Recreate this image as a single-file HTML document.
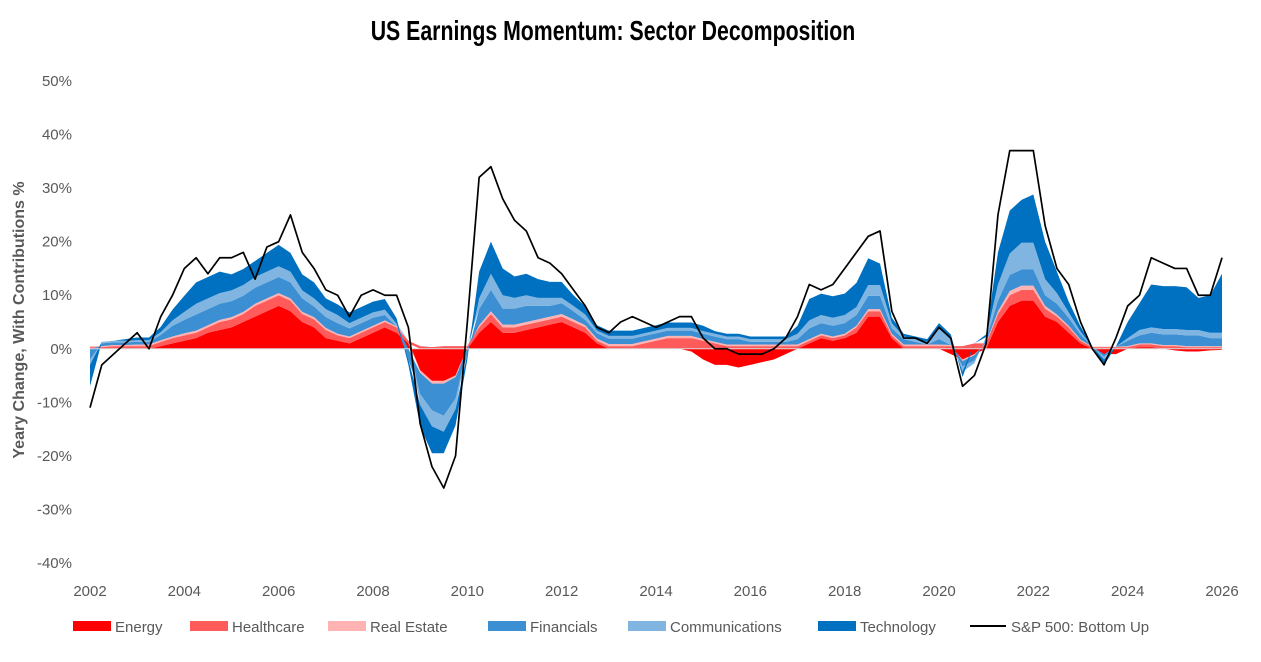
<!DOCTYPE html>
<html><head><meta charset="utf-8">
<style>
html,body{margin:0;padding:0;background:#fff;}
body{width:1261px;height:657px;overflow:hidden;font-family:"Liberation Sans",sans-serif;}
</style></head>
<body>
<svg id="chart" width="1261" height="657" xmlns="http://www.w3.org/2000/svg">
<text x="613" y="40" text-anchor="middle" font-family="Liberation Sans Narrow, Liberation Sans, sans-serif" font-weight="bold" font-size="28" fill="#000" transform="translate(613,0) scale(0.76,1) translate(-613,0)">US Earnings Momentum: Sector Decomposition</text>
<text x="0" y="0" transform="translate(24,320) rotate(-90)" text-anchor="middle" font-weight="bold" font-size="16" fill="#595959">Yeary Change, With Contributions %</text>
<g id="yaxis"></g>
<g id="xaxis"></g>
<g id="areas"></g>
<g id="line"></g>
<g id="legend"></g>
</svg>
<script>
const startYear = 2002;
const yTicks = [50,40,30,20,10,0,-10,-20,-30,-40];
const xTicks = [2002,2004,2006,2008,2010,2012,2014,2016,2018,2020,2022,2024,2026];
const seriesNames = ["Energy","Healthcare","Real Estate","Financials","Communications","Technology"];
const energy = [0,0,0,0, 0,0,0.5,1, 1.5,2,3,3.5, 4,5,6,7, 8,7,5,4, 2,1.5,1,2, 3,4,3,1, -4,-6,-6,-5, 0,3,5,3, 3,3.5,4,4.5, 5,4,3,1, 0,0,0,0, 0,0,0,-0.5, -2,-3,-3,-3.5, -3,-2.5,-2,-1, 0,1,2,1.5, 2,3,6,6, 2,0,0,0, 0,-1,-2,-1, 0,5,8,9, 9,6,5,3, 1,0,-1,-1, 0,0.3,0.3,0, -0.3,-0.5,-0.5,-0.3, -0.2];
const healthcare = [0.3,0.3,0.5,0.5, 0.5,0.5,0.8,1, 1,1,1,1.5, 1.5,1.5,2,2, 2,2,1.5,1.5, 1.5,1,1,1, 1,1,1,0.5, 0.5,0.3,0.5,0.5, 0.5,1,1.5,1, 1,1,1,1, 1,1,1,0.5, 0.5,0.5,0.5,1, 1.5,2,2,2, 1.5,1,0.5,0.5, 0.5,0.5,0.5,0.5, 0.5,0.5,0.5,0.5, 0.5,1,1,1, 0.5,0.5,0.5,0.5, 0.5,0.5,0.5,1, 1,1.5,2,2, 2,1.5,1,1, 0.5,0.3,0.3,0.3, 0.3,0.5,0.5,0.5, 0.5,0.3,0.3,0.3, 0.3];
const realEstate = [0.2,0.2,0.2,0.2, 0.3,0.3,0.3,0.3, 0.4,0.4,0.4,0.4, 0.4,0.4,0.4,0.4, 0.4,0.4,0.4,0.4, 0.4,0.3,0.3,0.3, 0.3,0.3,0.2,0, -0.5,-0.5,-0.5,-0.3, 0.2,0.4,0.5,0.5, 0.5,0.5,0.5,0.5, 0.5,0.5,0.4,0.4, 0.4,0.4,0.4,0.4, 0.4,0.4,0.4,0.4, 0.3,0.3,0.3,0.3, 0.3,0.3,0.3,0.3, 0.3,0.3,0.3,0.3, 0.3,0.3,0.4,0.4, 0.3,0.3,0.3,0.3, 0.3,0.2,-0.3,-0.2, 0.2,0.5,0.8,0.8, 0.8,0.5,0.4,0.3, 0.2,0.1,0.1,0.1, 0.2,0.2,0.2,0.2, 0.2,0.2,0.2,0.2, 0.2];
const financials = [-2,0.5,0.5,0.5, 0.5,0.5,1,2, 2.5,3,3,3, 3,3,3,3, 3,3,2.5,2, 2,2,1.5,1.5, 1.5,1,0,-2, -4,-5,-6,-4, -1,3,4,3, 3,3,2.5,2, 2,1.5,1,1, 1,1,1,1, 1,1,1,1, 1,1,1,1, 0.5,0.5,0.5,0.5, 1,2,2,2, 2,2,2.5,2.5, 1,1,0.5,0, 1,0,-1,-1, 0.5,2,3,3, 3,2,2,1.5, 1,0,-0.5,0, 1,1.5,2,2, 2,2,2,1.5, 1.5];
const communications = [-1,0.3,0.3,0.3, 0.3,0.3,0.5,1, 1.5,2,2,2, 2,2,2,2, 2,2,1.5,1.5, 1.5,1.5,1,1, 1,1,0.5,0, -2,-3,-3,-2, 0,2,3,2.5, 2,2,1.5,1.5, 1,1,1,0.5, 0.5,0.5,0.5,0.5, 0.5,0.5,0.5,0.5, 0.5,0.5,0.5,0.5, 0.5,0.5,0.5,0.5, 1,1.5,1.5,1.5, 1.5,1.5,2,2, 1,0.5,0.5,0.5, 2,1,-1,-0.5, 0.5,3,4,5, 5,3,2,1, 0.5,0,-0.5,0, 0.5,1,1,1, 1,1,1,1, 1];
const technology = [-4,0,0,0.3, 0.5,0.5,1,2, 3,4,4,4, 3,3,3,3.5, 4,3.5,3,3, 2,2,2,2, 2,2,1,-1, -4,-5,-4,-3, -1,5,6,5, 4,4,3.5,3, 3,2,1.5,1, 1,1,1,1, 1,1,1,1, 1,0.5,0.5,0.5, 0.5,0.5,0.5,0.5, 1.5,4,4,4, 4,4.5,5,4, 1,0.5,0.5,0.5, 1,1,-1,0, 0.5,6,8,8, 9,7,4,2, 1,0,-1,0, 3,5,8,8, 8,8,6,7, 11];
const sp500 = [-11,-3,-1,1, 3,0,6,10, 15,17,14,17, 17,18,13,19, 20,25,18,15, 11,10,6,10, 11,10,10,4, -14,-22,-26,-20, 5,32,34,28, 24,22,17,16, 14,11,8,4, 3,5,6,5, 4,5,6,6, 2,0,0,-1, -1,-1,0,2, 6,12,11,12, 15,18,21,22, 7,2,2,1, 4,2,-7,-5, 1,25,37,37, 37,23,15,12, 5,0,-3,2, 8,10,17,16, 15,15,10,10, 17];
const colors = ["#FF0000","#FF5B5B","#FFB3B3","#3C8FD3","#7FB5E0","#0070C0"];
const allSeries = [energy,healthcare,realEstate,financials,communications,technology];

const NS="http://www.w3.org/2000/svg";
const x0=90,x1=1222,yTop=81,yBot=563;
function xScale(t){return x0+(t-2002)/(2026-2002)*(x1-x0);}
function yScale(v){return yTop+(50-v)/(90)*(yBot-yTop);}
function tOf(i){return startYear+i*0.25;}
function mk(tag,attrs,parent){const e=document.createElementNS(NS,tag);for(const k in attrs)e.setAttribute(k,attrs[k]);parent.appendChild(e);return e;}

const yaxis=document.getElementById('yaxis');
yTicks.forEach(v=>{
  const t=mk('text',{x:72,y:yScale(v)+5,'text-anchor':'end','font-size':15,fill:'#595959'},yaxis);
  t.textContent=v+'%';
  
  
});
const xaxis=document.getElementById('xaxis');
xTicks.forEach(v=>{
  const t=mk('text',{x:xScale(v),y:596,'text-anchor':'middle','font-size':15,fill:'#595959'},xaxis);
  t.textContent=v;
  
  
});

const n=sp500.length;
const areas=document.getElementById('areas');
let posBase=new Array(n).fill(0), negBase=new Array(n).fill(0);
allSeries.forEach((s,si)=>{
  const lower=[],upper=[];
  for(let i=0;i<n;i++){
    const v=s[i];
    if(v>=0){lower.push(posBase[i]);upper.push(posBase[i]+v);posBase[i]+=v;}
    else{lower.push(negBase[i]);upper.push(negBase[i]+v);negBase[i]+=v;}
  }
  let d='M'+xScale(tOf(0))+','+yScale(upper[0]);
  for(let i=1;i<n;i++)d+=' L'+xScale(tOf(i))+','+yScale(upper[i]);
  for(let i=n-1;i>=0;i--)d+=' L'+xScale(tOf(i))+','+yScale(lower[i]);
  d+='Z';
  const p=mk('path',{d:d,fill:colors[si],stroke:'none'},areas);
  
  
});
const zl=mk('line',{x1:x0,x2:x1,y1:yScale(0),y2:yScale(0),stroke:'#d9d9d9','stroke-width':1},areas);



const lg=document.getElementById('line');
let ld='';
for(let i=0;i<n;i++)ld+=(i?' L':'M')+xScale(tOf(i))+','+yScale(sp500[i]);
const lp=mk('path',{d:ld,fill:'none',stroke:'#000','stroke-width':1.7,'stroke-linejoin':'round'},lg);



const legend=document.getElementById('legend');
const legX=[73,190,328,488,628,818];
seriesNames.forEach((nm,i)=>{
  const r=mk('rect',{x:legX[i],y:621,width:38,height:10,fill:colors[i]},legend);
  
  
  const t=mk('text',{x:legX[i]+42,y:632,'font-size':15,fill:'#595959'},legend);
  t.textContent=nm;
  
  
});
const ll=mk('line',{x1:970,x2:1006,y1:626,y2:626,stroke:'#000','stroke-width':2},legend);


const lt=mk('text',{x:1011,y:632,'font-size':15,fill:'#595959'},legend);
lt.textContent='S&P 500: Bottom Up';


</script>
</body></html>
